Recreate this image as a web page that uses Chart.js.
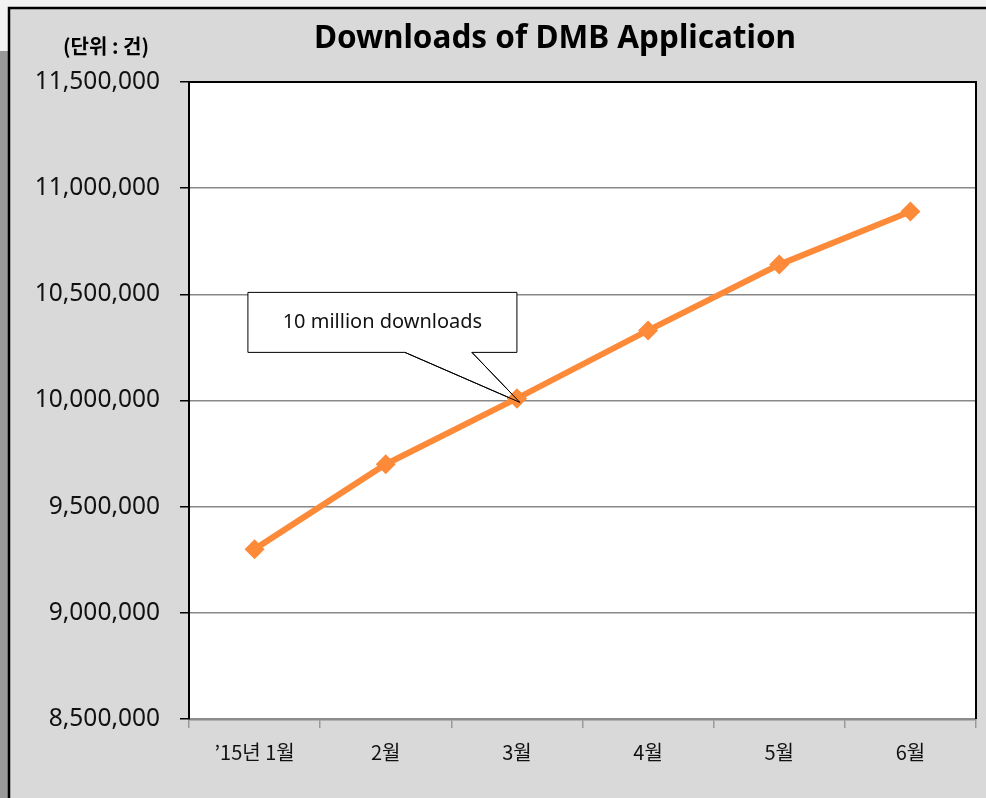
<!DOCTYPE html>
<html>
<head>
<meta charset="utf-8">
<script src="https://cdn.jsdelivr.net/npm/chart.js@4.4.1/dist/chart.umd.min.js"></script>
<style>
  html, body { margin: 0; padding: 0; background: #f2f2f2; }
  #wrap { width: 986px; height: 798px; }
</style>
</head>
<body>
<div id="wrap"><canvas id="dmb" width="986" height="798"></canvas></div>
<script>
var months = ['\u201915년 1월', '2월', '3월', '4월', '5월', '6월'];
var downloads = [9300000, 9700000, 10010000, 10330000, 10640000, 10890000];
var yMin = 8500000;
var yMax = 11500000;
var yStep = 500000;
var chartTitle = 'Downloads of DMB Application';
var unitLabel = '(단위 : 건)';
var calloutText = '10 million downloads';
var calloutIndex = 2; // the point the callout points at

var numFont = '"Noto Sans", "Noto Sans CJK KR", sans-serif';
var korFont = '"Noto Sans CJK KR", "Noto Sans", sans-serif';
var lineColor = '#fd8a38';

// backgrounds, frame, title and callout
var decor = {
  id: 'decor',
  beforeDraw: function(chart) {
    var ctx = chart.ctx;
    var a = chart.chartArea;
    ctx.save();
    ctx.fillStyle = '#f2f2f2';
    ctx.fillRect(0, 0, chart.width, chart.height);
    ctx.fillStyle = '#999999';
    ctx.fillRect(0, 51, 9, chart.height - 51);
    ctx.fillStyle = '#d9d9d9';
    ctx.fillRect(9, 8, chart.width, chart.height);
    ctx.strokeStyle = '#000';
    ctx.lineWidth = 2.5;
    ctx.beginPath();
    ctx.moveTo(9, chart.height + 5);
    ctx.lineTo(9, 8);
    ctx.lineTo(chart.width + 5, 8);
    ctx.stroke();
    ctx.fillStyle = '#ffffff';
    ctx.fillRect(a.left, a.top, a.right - a.left, a.bottom - a.top);

    ctx.fillStyle = '#000';
    ctx.textAlign = 'center';
    ctx.textBaseline = 'middle';
    ctx.font = 'bold 31.5px ' + numFont;
    ctx.fillText(chartTitle, 555, 39);
    ctx.font = 'bold 20px ' + korFont;
    ctx.fillText(unitLabel, 106, 46);
    ctx.restore();
  },
  beforeDatasetsDraw: function(chart) {
    var ctx = chart.ctx;
    var a = chart.chartArea;
    ctx.save();
    ctx.strokeStyle = '#000';
    ctx.lineWidth = 2;
    ctx.beginPath();
    ctx.moveTo(a.left, a.bottom);
    ctx.lineTo(a.left, a.top);
    ctx.lineTo(a.right, a.top);
    ctx.lineTo(a.right, a.bottom);
    ctx.stroke();
    ctx.restore();
  },
  afterDatasetsDraw: function(chart) {
    var ctx = chart.ctx;
    var pt = chart.getDatasetMeta(0).data[calloutIndex];
    var px = pt.x, py = pt.y;
    var left = px - 269, right = px, top = py - 106, bottom = py - 46;
    ctx.save();
    ctx.fillStyle = '#fff';
    ctx.strokeStyle = '#000';
    ctx.lineWidth = 1;
    ctx.beginPath();
    ctx.moveTo(left, top);
    ctx.lineTo(right, top);
    ctx.lineTo(right, bottom);
    ctx.lineTo(px - 45, bottom);
    ctx.lineTo(px + 3, py + 4);
    ctx.lineTo(px - 112, bottom);
    ctx.lineTo(left, bottom);
    ctx.closePath();
    ctx.fill();
    ctx.stroke();
    // redraw the marker over the pointer tip
    ctx.fillStyle = lineColor;
    ctx.beginPath();
    ctx.moveTo(px, py - 10);
    ctx.lineTo(px + 10, py);
    ctx.lineTo(px, py + 10);
    ctx.lineTo(px - 10, py);
    ctx.closePath();
    ctx.fill();
    ctx.beginPath();
    ctx.strokeStyle = '#000';
    ctx.moveTo(px - 112, bottom);
    ctx.lineTo(px + 3, py + 4);
    ctx.lineTo(px - 45, bottom);
    ctx.stroke();
    ctx.fillStyle = '#111';
    ctx.font = '20px ' + numFont;
    ctx.textAlign = 'center';
    ctx.textBaseline = 'middle';
    ctx.fillText(calloutText, (left + right) / 2, top + 30);
    ctx.restore();
  }
};

var ctx = document.getElementById('dmb').getContext('2d');
var chart = new Chart(ctx, {
  type: 'line',
  data: {
    labels: months,
    datasets: [{
      label: 'Downloads',
      data: downloads,
      borderColor: lineColor,
      backgroundColor: lineColor,
      borderWidth: 6,
      pointStyle: 'rectRot',
      pointRadius: 10,
      pointBorderWidth: 0,
      tension: 0,
      fill: false
    }]
  },
  options: {
    responsive: false,
    animation: false,
    devicePixelRatio: 1,
    layout: { padding: { top: 82, right: 7, left: 0, bottom: 0 } },
    plugins: {
      legend: { display: false },
      tooltip: { enabled: false },
      title: { display: false }
    },
    scales: {
      x: {
        offset: true,
        grid: {
          offset: true,
          drawOnChartArea: false,
          color: '#999',
          lineWidth: 1.5,
          tickLength: 9
        },
        border: { color: '#8c8c8c', width: 2.5 },
        ticks: {
          color: '#111',
          font: { family: korFont, size: 20 },
          padding: 12,
          maxRotation: 0
        },
        afterFit: function(scale) { scale.height = 79; }
      },
      y: {
        min: yMin,
        max: yMax,
        grid: {
          color: '#888',
          lineWidth: 1.5,
          tickColor: '#000',
          tickLength: 9
        },
        border: { color: '#000', width: 2 },
        ticks: {
          stepSize: yStep,
          color: '#111',
          font: { family: numFont, size: 24.5 },
          padding: 20,
          callback: function(v) { return v.toLocaleString('en-US'); }
        },
        afterFit: function(scale) { scale.width = 189; }
      }
    }
  },
  plugins: [decor]
});
</script>
</body>
</html>
